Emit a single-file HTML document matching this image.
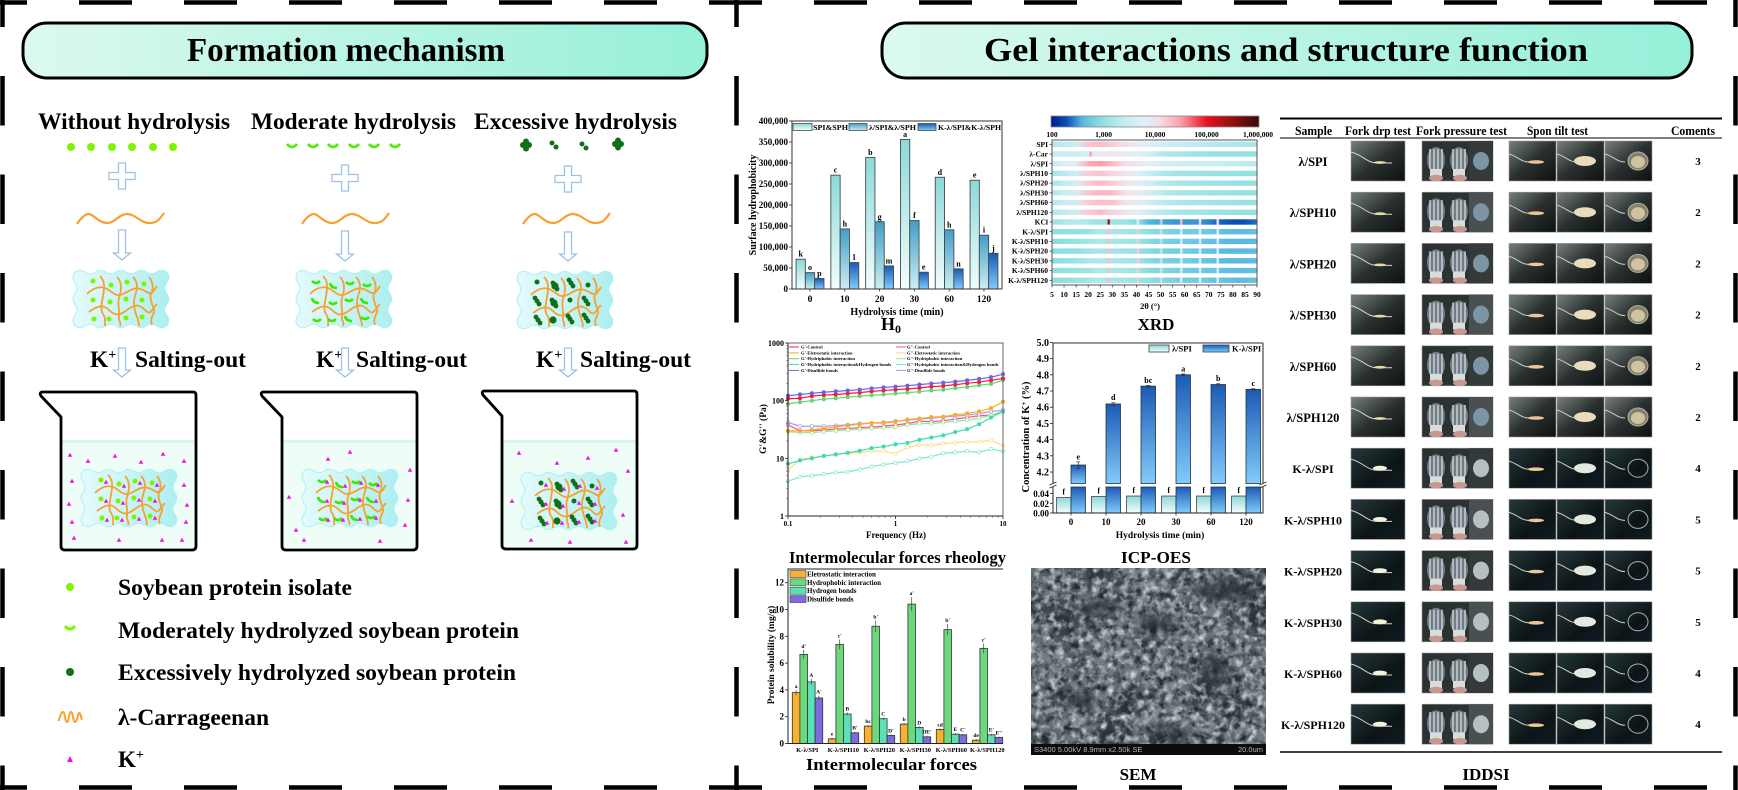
<!DOCTYPE html>
<html lang="en">
<head>
<meta charset="utf-8">
<title>Formation mechanism and gel interactions</title>
<style>
html,body{margin:0;padding:0;background:#fff;}
svg{display:block;font-family:"Liberation Serif","Noto Serif CJK SC",serif;font-weight:bold;}
</style>
</head>
<body>
<svg id="fig" xmlns="http://www.w3.org/2000/svg" width="1738" height="790" viewBox="0 0 1738 790">
<defs>
<linearGradient id="pillL" x1="0" x2="1" y1="0" y2="0"><stop offset="0" stop-color="#dcf9f0"/><stop offset="1" stop-color="#96f0d8"/></linearGradient>
<linearGradient id="gelFill" x1="0" x2="1" y1="0" y2="0"><stop offset="0" stop-color="#e4fafb"/><stop offset="1" stop-color="#aeeef0"/></linearGradient>
<linearGradient id="s1" x1="0" x2="0" y1="0" y2="1"><stop offset="0" stop-color="#8ed8d8"/><stop offset="1" stop-color="#f2fdfd"/></linearGradient>
<linearGradient id="s2" x1="0" x2="0" y1="0" y2="1"><stop offset="0" stop-color="#459cc6"/><stop offset="1" stop-color="#cdeef2"/></linearGradient>
<linearGradient id="s3" x1="0" x2="0" y1="0" y2="1"><stop offset="0" stop-color="#1c5ab6"/><stop offset="1" stop-color="#82ccfa"/></linearGradient>
<linearGradient id="photoL" x1="0" x2="1" y1="0" y2="1"><stop offset="0" stop-color="#767e7e"/><stop offset=".5" stop-color="#2a3030"/><stop offset="1" stop-color="#0c1010"/></linearGradient>
<linearGradient id="photoK" x1="0" x2="1" y1="0" y2="1"><stop offset="0" stop-color="#26383a"/><stop offset=".6" stop-color="#0c1416"/><stop offset="1" stop-color="#101c24"/></linearGradient>
<filter id="semDark" x="0" y="0" width="100%" height="100%" color-interpolation-filters="sRGB">
<feTurbulence type="fractalNoise" baseFrequency="0.12" numOctaves="4" seed="11"/>
<feColorMatrix type="matrix" values="0 0 0 0 0.14  0 0 0 0 0.17  0 0 0 0 0.19  1.8 1.8 0 0 -1.5"/>
<feComposite in2="SourceGraphic" operator="in"/>
</filter>
<filter id="semLight" x="0" y="0" width="100%" height="100%" color-interpolation-filters="sRGB">
<feTurbulence type="fractalNoise" baseFrequency="0.14" numOctaves="3" seed="29"/>
<feColorMatrix type="matrix" values="0 0 0 0 0.82  0 0 0 0 0.86  0 0 0 0 0.88  1.5 1.5 0 0 -1.35"/>
<feComposite in2="SourceGraphic" operator="in"/>
</filter>
<filter id="semLarge" x="0" y="0" width="100%" height="100%" color-interpolation-filters="sRGB">
<feTurbulence type="fractalNoise" baseFrequency="0.022" numOctaves="2" seed="5"/>
<feColorMatrix type="matrix" values="0 0 0 0 0.1  0 0 0 0 0.13  0 0 0 0 0.15  2.4 0 0 0 -1.1"/>
<feComposite in2="SourceGraphic" operator="in"/>
</filter>
<filter id="blur5"><feGaussianBlur stdDeviation="5"/></filter>
</defs>

<g stroke="#000" stroke-width="4.5" fill="none">
<line x1="0" y1="2.5" x2="1738" y2="2.5" stroke-dasharray="53 52" stroke-dashoffset="26"/>
<line x1="0" y1="787.5" x2="1738" y2="787.5" stroke-dasharray="53 52" stroke-dashoffset="26"/>
<line x1="2.5" y1="0" x2="2.5" y2="790" stroke-dasharray="49.5 49" stroke-dashoffset="22.5"/>
<line x1="736.5" y1="0" x2="736.5" y2="790" stroke-dasharray="49.5 49" stroke-dashoffset="22.5"/>
<line x1="1735.5" y1="0" x2="1735.5" y2="790" stroke-dasharray="49.5 49" stroke-dashoffset="22.5"/>
</g>

<g>
<rect x="23" y="23" width="684" height="55" rx="24" fill="url(#pillL)" stroke="#000" stroke-width="3"/>
<text x="346" y="61" font-size="34" text-anchor="middle" textLength="318" lengthAdjust="spacingAndGlyphs">Formation mechanism</text>
</g>
<g>
<rect x="882" y="23" width="810" height="55" rx="24" fill="url(#pillL)" stroke="#000" stroke-width="3"/>
<text x="1286" y="61" font-size="34" text-anchor="middle" textLength="604" lengthAdjust="spacingAndGlyphs">Gel interactions and structure function</text>
</g>

<g font-size="23.5">
<text x="38" y="129" textLength="192" lengthAdjust="spacingAndGlyphs">Without hydrolysis</text>
<text x="251" y="129" textLength="205" lengthAdjust="spacingAndGlyphs">Moderate hydrolysis</text>
<text x="474" y="129" textLength="203" lengthAdjust="spacingAndGlyphs">Excessive hydrolysis</text>
</g>
<g font-size="23.5">
<text x="90" y="367">K<tspan dy="-8" font-size="14">+</tspan></text>
<text x="135" y="367" textLength="111" lengthAdjust="spacingAndGlyphs">Salting-out</text>
<text x="316" y="367">K<tspan dy="-8" font-size="14">+</tspan></text>
<text x="356" y="367" textLength="111" lengthAdjust="spacingAndGlyphs">Salting-out</text>
<text x="536" y="367">K<tspan dy="-8" font-size="14">+</tspan></text>
<text x="580" y="367" textLength="111" lengthAdjust="spacingAndGlyphs">Salting-out</text>
</g>
<g id="mech"></g>

<g id="mechLegend" font-size="23">
<circle cx="70" cy="587" r="4" fill="#7df500"/>
<text x="118" y="595" textLength="234" lengthAdjust="spacingAndGlyphs">Soybean protein isolate</text>
<path d="M65 626 Q70 632 75 626" fill="none" stroke="#7df500" stroke-width="3"/>
<text x="118" y="638" textLength="401" lengthAdjust="spacingAndGlyphs">Moderately hydrolyzed soybean protein</text>
<circle cx="70" cy="672" r="4" fill="#107018"/>
<text x="118" y="680" textLength="398" lengthAdjust="spacingAndGlyphs">Excessively hydrolyzed soybean protein</text>
<path d="M58.500 721 C60 717,61 712,63 712 C65 712,65 722,67 722 C69 722,69 712,71 712 C73 712,73 722,75 722 C77 722,78 714,79 713 C81 713,81 718,82 720" fill="none" stroke="#f8a030" stroke-width="2"/>
<text x="118" y="725" textLength="151" lengthAdjust="spacingAndGlyphs">λ-Carrageenan</text>
<polygon points="70,756 73,762 67,762" fill="#f010e0"/>
<text x="118" y="767">K<tspan dy="-8" font-size="14">+</tspan></text>
</g>

<g id="chartH0"></g>
<g id="chartXRD"></g>
<g id="chartRheo"></g>
<g id="chartICP"></g>
<g id="chartForces"></g>

<g>
<rect x="1031" y="568" width="235" height="187" fill="#727d82"/>
<rect x="1031" y="568" width="235" height="187" fill="#2c3438" filter="url(#semLarge)"/>
<rect x="1031" y="568" width="235" height="187" fill="#2c3438" filter="url(#semDark)"/>
<rect x="1031" y="568" width="235" height="187" fill="#dde4e8" filter="url(#semLight)"/>
<g fill="#20282c" filter="url(#blur5)" opacity=".7">
<ellipse cx="1225" cy="590" rx="30" ry="12"/>
<ellipse cx="1215" cy="672" rx="13" ry="17"/>
<ellipse cx="1155" cy="625" rx="22" ry="10"/>
<ellipse cx="1100" cy="608" rx="25" ry="8"/>
<ellipse cx="1080" cy="700" rx="20" ry="9"/>
<ellipse cx="1170" cy="735" rx="26" ry="7"/>
</g>
<rect x="1031" y="744" width="235" height="11" fill="#0c0c0c"/>
<text x="1034" y="752" font-size="7.5" fill="#b8b8b8" style="font-family:'Liberation Sans',sans-serif;font-weight:normal">S3400 5.00kV 8.9mm x2.50k SE</text>
<text x="1263" y="752" font-size="7.5" fill="#b8b8b8" text-anchor="end" style="font-family:'Liberation Sans',sans-serif;font-weight:normal">20.0um</text>
</g>

<g id="iddsi">
<line x1="1280" y1="118.500" x2="1722" y2="118.500" stroke="#000" stroke-width="2"/>
<line x1="1280" y1="138" x2="1722" y2="138" stroke="#333" stroke-width="1.200"/>
<line x1="1280" y1="752" x2="1722" y2="752" stroke="#000" stroke-width="1.500"/>
<g font-size="13">
<text x="1295" y="135" textLength="37" lengthAdjust="spacingAndGlyphs">Sample</text>
<text x="1345" y="135" textLength="66" lengthAdjust="spacingAndGlyphs">Fork drp test</text>
<text x="1416" y="135" textLength="91" lengthAdjust="spacingAndGlyphs">Fork pressure test</text>
<text x="1527" y="135" textLength="61" lengthAdjust="spacingAndGlyphs">Spon tilt test</text>
<text x="1671" y="135" textLength="44" lengthAdjust="spacingAndGlyphs">Coments</text>
</g>
</g>

<g>
<text x="891" y="330" font-size="18" text-anchor="middle">H<tspan dy="3" font-size="12">0</tspan></text>
<text x="1156" y="330" font-size="17" text-anchor="middle">XRD</text>
<text x="789" y="563" font-size="17" textLength="217" lengthAdjust="spacingAndGlyphs">Intermolecular forces rheology</text>
<text x="1121" y="563" font-size="17" textLength="70" lengthAdjust="spacingAndGlyphs">ICP-OES</text>
<text x="806" y="770" font-size="17" textLength="171" lengthAdjust="spacingAndGlyphs">Intermolecular forces</text>
<text x="1138" y="780" font-size="17" text-anchor="middle">SEM</text>
<text x="1486" y="780" font-size="17" text-anchor="middle">IDDSI</text>
</g>
</svg>

<script>
/* ---------- Chart data ---------- */
const h0Categories = ['0','10','20','30','60','120'];
const h0SeriesNames = ['SPI&SPH','λ/SPI&λ/SPH','K-λ/SPI&K-λ/SPH'];
const h0Spi = [71000,271000,313000,356000,266000,259000];
const h0Lambda = [39000,143000,160000,163000,141000,128000];
const h0Kappa = [25000,63000,55000,40000,48000,85000];
const h0SpiLetters = ['k','c','b','a','d','e'];
const h0LambdaLetters = ['o','h','g','f','h','i'];
const h0KappaLetters = ['p','l','m','e','n','j'];
const h0Ticks = [0,50000,100000,150000,200000,250000,300000,350000,400000];
const h0TickLabels = ['0','50,000','100,000','150,000','200,000','250,000','300,000','350,000','400,000'];

const xrdRowNames = ['SPI','λ-Car','λ/SPI','λ/SPH10','λ/SPH20','λ/SPH30','λ/SPH60','λ/SPH120','KCl','K-λ/SPI','K-λ/SPH10','K-λ/SPH20','K-λ/SPH30','K-λ/SPH60','K-λ/SPH120'];
const xrdAngles = [5,10,15,20,25,30,35,40,45,50,55,60,65,70,75,80,85,90];
const xrdSpi = [3.25,3.35,3.5,4.25,4.3,4.2,4.05,3.9,3.7,3.55,3.45,3.4,3.35,3.3,3.25,3.25,3.2,3.2];
const xrdCar = [3.4,3.45,3.45,3.6,3.9,3.95,3.9,3.8,3.55,3.3,3.2,3.15,3.1,3.05,3.05,3.05,3.05,3.05];
const xrdLamSpi = [3.4,3.65,3.85,4.4,4.5,4.3,4.1,3.95,3.8,3.65,3.55,3.5,3.45,3.45,3.45,3.4,3.35,3.3];
const xrdLamSph10 = [3.15,3.3,3.5,4.2,4.25,4.15,4,3.75,3.45,3.25,3.15,3.1,3.1,3.05,3.05,3.05,3,3];
const xrdLamSph20 = [3.2,3.35,3.55,4.2,4.3,4.2,4.05,3.85,3.5,3.3,3.2,3.15,3.15,3.1,3.1,3.05,3.05,3.05];
const xrdLamSph30 = [3.25,3.4,3.55,4.25,4.35,4.3,4.1,3.9,3.55,3.35,3.2,3.15,3.15,3.1,3.1,3.05,3.05,3.05];
const xrdLamSph60 = [3.25,3.4,3.55,4.2,4.3,4.25,4.05,3.85,3.55,3.35,3.25,3.2,3.15,3.15,3.1,3.1,3.05,3.05];
const xrdLamSph120 = [3.25,3.35,3.5,4.2,4.3,4.15,4,3.8,3.5,3.3,3.2,3.15,3.15,3.1,3.1,3.05,3.05,3.05];
const xrdKcl = [3.1,3.2,3.3,3.2,3.1,3.1,3.1,3,2.6,2.55,2.5,2.5,2.5,2.45,2.35,2.3,2.3,2.4];
const xrdKSpi = [3,3,3,3.05,3.25,3.2,3.15,3.1,3,2.9,2.85,2.8,2.8,2.75,2.7,2.65,2.65,2.7];
const xrdKSph10 = [2.95,3,3.05,3.15,3.25,3.15,3.15,3.1,2.95,2.85,2.8,2.8,2.75,2.7,2.65,2.6,2.6,2.65];
const xrdKSph20 = [2.95,3,3,3.1,3.2,3.15,3.1,3.05,2.95,2.85,2.8,2.8,2.75,2.7,2.65,2.6,2.6,2.65];
const xrdKSph30 = [2.95,3,3.05,3.2,3.25,3.2,3.15,3.1,2.95,2.85,2.8,2.8,2.75,2.7,2.65,2.6,2.6,2.65];
const xrdKSph60 = [3,3,3.05,3.1,3.25,3.2,3.15,3.1,2.95,2.9,2.85,2.8,2.75,2.75,2.7,2.65,2.65,2.7];
const xrdKSph120 = [3,3,3.05,3.15,3.25,3.2,3.15,3.1,3,2.9,2.85,2.8,2.8,2.75,2.7,2.65,2.65,2.7];
const xrdPeakAngles = [28.5,40.5,50.2,58.6,66.4,73.7];
const xrdKclPeaks = [5.4,3.8,3.9,4.3,3.9,3.9];
const xrdKRowPeaks = [4.3,4.2,3.7,3.7,3.7,3.7];
const xrdCarPeakAngles = [21];
const xrdCarPeaks = [4.5];
const xrdTicks = [5,10,15,20,25,30,35,40,45,50,55,60,65,70,75,80,85,90];
const colorbarLabels = ['100','1,000','10,000','100,000','1,000,000'];
const colorbarTicks = [2,3,4,5,6];

const rheoFreqCount = 19;
const rheoGpControl = [108,110,120,125,128,133,138,145,150,155,160,166,175,180,190,200,210,225,243];
const rheoGpElectro = [30,30,31,33,35,37,39,41,41,43,47,49,52,53,57,60,65,74,96];
const rheoGpHydro = [88,94,100,106,110,115,120,124,128,133,138,143,150,155,165,172,185,195,227];
const rheoGpHH = [8,9.2,10,11,11.7,12.5,13.5,15,16,17.5,18.5,21,23,25,28.5,32,39,51,65];
const rheoGpDisulfide = [122,128,134,140,145,150,155,163,170,175,182,190,198,205,213,225,238,255,288];
const rheoGppControl = [38,30,30,31,32,33,34,35,36,38,40,44,43,45,48,51,55,56,65];
const rheoGppElectro = [6.2,9.5,10.3,11,11.5,12.2,12.7,13.2,13.4,12,15.5,17,16.8,18,18.7,19.3,19.3,20.6,16.5];
const rheoGppHydro = [29,28,28,29,30,31,32,33,34,35,38,40,40,42,44,46,50,56,65];
const rheoGppHH = [4,4.8,5,5.3,5.7,5.8,6.4,7.2,7.8,8.3,8.9,9.9,10.7,12.3,12.7,13.3,12.7,14.5,13.3];
const rheoGppDisulfide = [42,36,36,36,37,38,40,41,42,44,46,48,50,52,54,56,60,65,68];
const rheoLegendLeft = ["G'-Control","G'-Eletrostatic interaction","G'-Hydriphobic interaction","G'-Hydriphobic interaction&Hydrogen bonds","G'-Disulfide bonds"];
const rheoLegendRight = ["G''-Control","G''-Eletrostatic interaction","G''-Hydriphobic interaction","G''-Hydriphobic interaction&Hydrogen bonds","G''-Disulfide bonds"];
const rheoYTicks = [1,10,100,1000];
const rheoYLabels = ['1','10','100','1000'];
const rheoXTicks = [0.1,1,10];
const rheoXLabels = ['0.1','1','10'];

const icpCategories = ['0','10','20','30','60','120'];
const icpLight = [0.032,0.034,0.035,0.035,0.035,0.035];
const icpDark = [4.243,4.62,4.73,4.80,4.74,4.71];
const icpDarkErr = [0.02,0.008,0.005,0.005,0.005,0.005];
const icpLetters = ['e','d','bc','a','b','c'];
const icpUpperTicks = [4.2,4.3,4.4,4.5,4.6,4.7,4.8,4.9,5.0];
const icpLowerTicks = [0,0.02,0.04];
const icpLowerLabels = ['0.00','0.02','0.04'];

const forceCategories = ['K-λ/SPI','K-λ/SPH10','K-λ/SPH20','K-λ/SPH30','K-λ/SPH60','K-λ/SPH120'];
const forceElectro = [3.8,0.35,1.3,1.45,1.05,0.25];
const forceHydrophobic = [6.65,7.4,8.75,10.4,8.5,7.1];
const forceHydrogen = [4.6,2.2,1.85,1.2,0.7,0.65];
const forceDisulfide = [3.4,0.8,0.6,0.5,0.65,0.45];
const forceElectroLetters = ['a','e','bc','b','cd','de'];
const forceHydrophobicLetters = ["d'","c'","b'","a'","b'","c'"];
const forceHydrogenLetters = ['A','B','C','D','E',"E'"];
const forceDisulfideLetters = ["A'","B'","D'","DE'","C'","E''"];
const forceTicks = [0,2,4,6,8,10,12];
const forceLegend = ['Eletrostatic interaction','Hydrophobic interaction','Hydrogen bonds','Disulfide bonds'];

const tableSamples = ['λ/SPI','λ/SPH10','λ/SPH20','λ/SPH30','λ/SPH60','λ/SPH120','K-λ/SPI','K-λ/SPH10','K-λ/SPH20','K-λ/SPH30','K-λ/SPH60','K-λ/SPH120'];
const tableScores = [3,2,2,2,2,2,4,5,5,5,4,4];

/* ---------- Helpers ---------- */
const NS = 'http://www.w3.org/2000/svg';
function mk(tag, attrs, parent, txt) {
  const e = document.createElementNS(NS, tag);
  for (const k in attrs) e.setAttribute(k, attrs[k]);
  if (txt !== undefined) e.textContent = txt;
  if (parent) parent.appendChild(e);
  return e;
}
function line(p, x1, y1, x2, y2, stroke, sw) {
  return mk('line', {x1, y1, x2, y2, stroke, 'stroke-width': sw}, p);
}
function text(p, x, y, s, size, anchor, fill) {
  return mk('text', {x, y, 'font-size': size, 'text-anchor': anchor || 'start', fill: fill || '#000'}, p, s);
}
const defs = document.querySelector('#fig defs');

/* ---------- Mechanism diagram ---------- */
const mech = document.getElementById('mech');
function plusIcon(cx, cy) {
  const a = 13, b = 3.5;
  const el = mk('polygon', {points: [[-b,-a],[b,-a],[b,-b],[a,-b],[a,b],[b,b],[b,a],[-b,a],[-b,b],[-a,b],[-a,-b],[-b,-b]].map(p => (cx+p[0])+','+(cy+p[1])).join(' '), fill: '#fff', stroke: '#9cc0e6', 'stroke-width': 1.3}, mech);
  
  
}
function downArrow(cx, y, h) {
  const s = 3.5, w = 8.5, head = h - 7;
  const el = mk('polygon', {points: [[-s,0],[s,0],[s,head],[w,head],[0,h],[-w,head],[-s,head]].map(p => (cx+p[0])+','+(y+p[1])).join(' '), fill: '#fff', stroke: '#9cc0e6', 'stroke-width': 1.3}, mech);
  
  
}
function carrageenan(x, y) {
  const el = mk('path', {d: 'M0 10 C4 4,8 0,12 0 S22 9,30 9 S42 0,50 0 S64 9,72 9 S82 6,87 -1', transform: 'translate('+x+','+y+')', fill: 'none', stroke: '#f8a030', 'stroke-width': 2.2}, mech);
  
  
}
function gelBlobPath() {
  let d = 'M2 4';
  for (let i = 0; i < 9; i++) d += ' q5 ' + (i % 2 ? 3.5 : -3.5) + ' 10.2 0';
  for (let i = 0; i < 5; i++) d += ' q' + (i % 2 ? -4 : 4) + ' 5.5 0 10.8';
  for (let i = 0; i < 9; i++) d += ' q-5 ' + (i % 2 ? -3.5 : 3.5) + ' -10.2 0';
  for (let i = 0; i < 5; i++) d += ' q' + (i % 2 ? 4 : -4) + ' -5.5 0 -10.8';
  return d + ' Z';
}
const gelNetwork = [
  'M14 26 C20 20,26 18,32 20 S42 30,50 26 S62 18,70 22 S78 28,84 18',
  'M16 44 C24 38,30 36,36 42 S46 48,54 42 S66 36,72 42 S78 42,84 36',
  'M27 8 C33 14,31 22,30 28 S27 42,30 46 S32 54,32 58',
  'M44 9 C50 15,48 24,46 30 S47 42,46 48 S49 54,47 58',
  'M60 9 C66 15,64 22,62 28 S61 40,63 46 S66 54,66 58',
  'M76 9 C81 15,80 22,78 26 S80 38,81 42 S76 50,79 57'
];
const gelSpots = [[20,13],[38,17],[54,14],[71,16],[20,32],[37,34],[53,31],[69,32],[21,51],[36,51],[53,50],[69,49]];
function triangle(p, x, y) {
  const el = mk('polygon', {points: x+','+(y-2.2)+' '+(x+2.3)+','+(y+1.8)+' '+(x-2.3)+','+(y+1.8), fill: '#f010e0'}, p);
  
  
}
function gel(x, y, kind, withK) {
  const g = mk('g', {transform: 'translate('+x+','+y+')'}, mech);
  
  
  const blob = mk('path', {d: gelBlobPath(), fill: 'url(#gelFill)', stroke: '#a8f2f8', 'stroke-width': 1}, g);
  
  
  gelNetwork.forEach(d => {
    const n = mk('path', {d, fill: 'none', stroke: '#f8a030', 'stroke-width': 1.8}, g);
    
    
  });
  gelSpots.forEach((s, i) => {
    const pg = mk('g', {transform: 'translate('+s[0]+','+s[1]+')'}, g);
    
    
    if (kind === 0) mk('circle', {r: 2.5, fill: '#7df500'}, pg);
    if (kind === 1) mk('path', {d: i % 3 === 1 ? 'M-4 -2 Q-3 3 3 3' : 'M-4 0 Q0 4 4 0', fill: 'none', stroke: '#3ce800', 'stroke-width': 2.6}, pg);
    if (kind === 2) {
      const big = i % 4 === 1 || i === 5;
      mk('circle', {r: big ? 3.6 : 2.5, fill: '#107018'}, pg);
      if (i % 3 !== 0) { mk('circle', {cx: 2, cy: 3, r: 2.4, fill: '#107018'}, pg); mk('circle', {cx: -2, cy: -3, r: 2.4, fill: '#107018'}, pg); }
    }
  });
  if (withK) gelSpots.forEach((s) => triangle(g, s[0] + 5, s[1] + 2));
}
function beaker(x0, wall, right, top, bottom) {
  const liq = mk('rect', {x: wall, y: 440, width: right - wall, height: bottom - 441, fill: '#eefdf6'}, mech);
  
  
  const band = mk('rect', {x: wall, y: 440, width: right - wall, height: 3, fill: '#d4f8ea'}, mech);
  
  
  const b = mk('path', {d: 'M'+(x0+2)+' '+top+' H'+(right-3)+' q3 0 3 3 V'+(bottom-4)+' q0 4 -4 4 H'+(wall+4)+' q-4 0 -4 -4 V'+(top+25)+' L'+(x0+1)+' '+(top+4)+' q-2 -3 1 -4 Z', fill: 'none', stroke: '#000', 'stroke-width': 2.8, 'stroke-linejoin': 'round'}, mech);
  
  
}
[71,91,112,132,153,173].forEach(x => {
  const d = mk('circle', {cx: x, cy: 147, r: 4, fill: '#7df500'}, mech);
  
  
});
[292,313,333,354,374,395].forEach(x => {
  const d = mk('path', {d: 'M'+(x-5)+' 144 Q'+x+' 150 '+(x+5)+' 144', fill: 'none', stroke: '#4cf000', 'stroke-width': 2.8}, mech);
  
  
});
[[526,145,1],[554,145,0],[584,146,0],[618,144,1]].forEach(c => {
  const g = mk('g', {transform: 'translate('+c[0]+','+c[1]+')', fill: '#107018'}, mech);
  
  
  if (c[2]) { mk('circle', {cx: -3, cy: 0, r: 3}, g); mk('circle', {cx: 3, cy: 0, r: 3}, g); mk('circle', {cx: 0, cy: -3.5, r: 3}, g); mk('circle', {cx: 0, cy: 3.5, r: 3}, g); }
  else { mk('circle', {cx: -2, cy: -2, r: 2.5}, g); mk('circle', {cx: 2, cy: 2, r: 2.5}, g); }
});
plusIcon(122, 176); plusIcon(345, 178); plusIcon(568, 179);
carrageenan(77, 214); carrageenan(302, 214); carrageenan(523, 214);
downArrow(122, 230, 30); downArrow(345, 231, 30); downArrow(568, 232, 29);
gel(73, 268, 0, false); gel(296, 268, 1, false); gel(517, 269, 2, false);
downArrow(122, 348, 29); downArrow(345, 348, 29); downArrow(568, 348, 29);
beaker(40, 61, 196, 392, 550); beaker(261, 282, 417, 392, 550); beaker(482, 502, 637, 391, 549);
gel(81, 467, 0, true); gel(302, 467, 1, true); gel(521, 470, 2, true);
[[70,455],[88,461],[115,456],[141,462],[163,454],[184,461],[72,481],[184,485],[69,504],[187,505],[74,538],[119,540],[162,540],[182,540],[72,522],[186,522]].forEach(p => triangle(mech, p[0], p[1]));
[[328,459],[289,497],[410,470],[296,530],[405,525],[304,540],[380,541],[350,452],[408,500]].forEach(p => triangle(mech, p[0], p[1]));
[[519,453],[557,463],[588,458],[616,450],[628,471],[512,501],[623,515],[531,540],[570,542],[626,542]].forEach(p => triangle(mech, p[0], p[1]));

/* ---------- Chart 1: surface hydrophobicity ---------- */
(function () {
  const g = document.getElementById('chartH0');
  const L = 792, R = 1002, T = 121, B = 289;
  const y = v => B - v / 400000 * (B - T);
  const groupX = i => 810 + i * 34.8;
  const bw = 9.3;
  const series = [h0Spi, h0Lambda, h0Kappa];
  const letters = [h0SpiLetters, h0LambdaLetters, h0KappaLetters];
  series.forEach((vals, s) => {
    vals.forEach((v, i) => {
      const x = groupX(i) - 1.5 * bw + s * bw;
      const bar = mk('rect', {x, y: y(v), width: bw, height: B - y(v), fill: 'url(#s'+(s+1)+')', stroke: '#3c4e50', 'stroke-width': .9}, g);
      
      
      const lb = text(g, x + bw / 2, y(v) - 2.5, letters[s][i], 8, 'middle');
      
      
    });
  });
  const frame = mk('path', {d: 'M'+L+' '+B+' V'+T+' H'+R+' V'+B, fill: 'none', stroke: '#777', 'stroke-width': 1.5}, g);
  
  
  const base = line(g, L, B, R, B, '#333', 1);
  
  
  h0Ticks.forEach((v, i) => {
    const tk = line(g, L - 3, y(v), L, y(v), '#333', .8);
    
    
    const lb = text(g, L - 4, y(v) + 3, h0TickLabels[i], 9, 'end');
    
    
  });
  h0Categories.forEach((c, i) => {
    const lb = text(g, groupX(i), 302, c, 9.5, 'middle');
    
    
    const tk = line(g, groupX(i), B, groupX(i), B + 2.5, '#333', .8);
    
    
  });
  const xt = text(g, 897, 315, 'Hydrolysis time (min)', 10, 'middle');
  
  
  const yt = text(g, 0, 0, 'Surface hydrophobicity', 10, 'middle');
  yt.setAttribute('transform', 'translate(756,205) rotate(-90)');
  
  
  [[793,812,813,'SPI&SPH',35],[849,867,869,'λ/SPI&λ/SPH',47],[918,936,938,'K-λ/SPI&K-λ/SPH',63]].forEach((e, s) => {
    const sw = mk('rect', {x: e[0], y: 123.5, width: e[1]-e[0], height: 7, fill: 'url(#s'+(s+1)+')', stroke: '#3c4e50', 'stroke-width': .8}, g);
    
    
    const lb = text(g, e[2], 130, e[3], 7.5);
    lb.setAttribute('textLength', e[4]);
    lb.setAttribute('lengthAdjust', 'spacingAndGlyphs');
    
    
  });
})();

/* ---------- Chart 2: XRD heatmap ---------- */
const xrdScaleStops = [[2,'#001a8c'],[2.3,'#0a50b4'],[2.6,'#58b8e0'],[3,'#90e0e0'],[3.4,'#c4edf1'],[3.8,'#e4eef8'],[4.1,'#f6dce4'],[4.5,'#ff9ca8'],[5,'#e81020'],[5.5,'#901010'],[6,'#3c0808']];
function xrdColor(v) {
  const st = xrdScaleStops;
  if (v <= st[0][0]) return st[0][1];
  for (let i = 1; i < st.length; i++) {
    if (v <= st[i][0]) {
      const t = (v - st[i-1][0]) / (st[i][0] - st[i-1][0]);
      const a = st[i-1][1], b = st[i][1];
      const ch = k => Math.round(parseInt(a.substr(k,2),16) * (1-t) + parseInt(b.substr(k,2),16) * t);
      return 'rgb('+ch(1)+','+ch(3)+','+ch(5)+')';
    }
  }
  return st[st.length-1][1];
}
(function () {
  const g = document.getElementById('chartXRD');
  const L = 1052, R = 1257, T = 140, B = 285;
  const x = a => L + (a - 5) / 85 * (R - L);
  const rowY = i => 144.3 + i * 9.71;
  const rows = [xrdSpi,xrdCar,xrdLamSpi,xrdLamSph10,xrdLamSph20,xrdLamSph30,xrdLamSph60,xrdLamSph120,xrdKcl,xrdKSpi,xrdKSph10,xrdKSph20,xrdKSph30,xrdKSph60,xrdKSph120];
  const base = (vals, a) => {
    const p = (a - 5) / 5, i = Math.min(Math.floor(p), vals.length - 2);
    return vals[i] + (vals[i+1] - vals[i]) * (p - i);
  };
  rows.forEach((vals, r) => {
    const grad = mk('linearGradient', {id: 'xrdRow'+r, x1: 0, x2: 1, y1: 0, y2: 0}, defs);
    const pts = xrdAngles.map((a, i) => [a, vals[i]]);
    let angles = [], peaks = [];
    if (r === 1) { angles = xrdCarPeakAngles; peaks = xrdCarPeaks; }
    if (r === 8) { angles = xrdPeakAngles; peaks = xrdKclPeaks; }
    if (r > 8) { angles = xrdPeakAngles; peaks = xrdKRowPeaks; }
    angles.forEach((a, i) => {
      const b = base(vals, a);
      pts.push([a - .7, b], [a - .25, peaks[i]], [a + .25, peaks[i]], [a + .7, b]);
    });
    pts.sort((p, q) => p[0] - q[0]);
    pts.forEach(p => mk('stop', {offset: (p[0]-5)/85, 'stop-color': xrdColor(p[1])}, grad));
    const band = mk('rect', {x: L, y: rowY(r) - 2.7, width: R - L, height: 5.4, fill: 'url(#xrdRow'+r+')'}, g);
    
    
    const lb = text(g, L - 4, rowY(r) + 2.6, xrdRowNames[r], 7.5, 'end');
    
    
    const tk = line(g, L - 2.5, rowY(r), L, rowY(r), '#333', .7);
    
    
  });
  const frame = mk('rect', {x: L, y: T, width: R - L, height: B - T, fill: 'none', stroke: '#444', 'stroke-width': .9}, g);
  
  
  xrdTicks.forEach(a => {
    const tk = line(g, x(a), B, x(a), B + 2.5, '#333', .7);
    
    
    const lb = text(g, x(a), 297, String(a), 7.5, 'middle');
    
    
  });
  const xt = text(g, 1150, 309, '2θ (°)', 8.5, 'middle');
  
  
  const cbGrad = mk('linearGradient', {id: 'cbGrad', x1: 0, x2: 1, y1: 0, y2: 0}, defs);
  xrdScaleStops.forEach(s => mk('stop', {offset: (s[0]-2)/4, 'stop-color': s[1]}, cbGrad));
  const cb = mk('rect', {x: 1051, y: 116, width: 208, height: 11, fill: 'url(#cbGrad)', stroke: '#888', 'stroke-width': .8}, g);
  
  
  colorbarTicks.forEach((v, i) => {
    const lb = text(g, 1052 + (v - 2) / 4 * 206, 137, colorbarLabels[i], 7.5, 'middle');
    
    
  });
})();

/* ---------- Chart 3: rheology ---------- */
(function () {
  const g = document.getElementById('chartRheo');
  const L = 788, R = 1003, T = 343, B = 516;
  const x = f => L + (Math.log10(f) + 1) / 2 * (R - L);
  const y = v => B - Math.log10(v) / 3 * (B - T);
  const freqAt = i => Math.pow(10, -1 + 2 * i / (rheoFreqCount - 1));
  const series = [
    [rheoGppControl,'#ff5078',false,'G-double-prime-control'],
    [rheoGppElectro,'#ffd98a',false,'G-double-prime-electrostatic'],
    [rheoGppHydro,'#8ce89a',false,'G-double-prime-hydrophobic'],
    [rheoGppHH,'#78ecc8',false,'G-double-prime-hydrophobic-hydrogen'],
    [rheoGppDisulfide,'#a898ee',false,'G-double-prime-disulfide'],
    [rheoGpElectro,'#f8ae2c',true,'G-prime-electrostatic'],
    [rheoGpHH,'#3fdcae',true,'G-prime-hydrophobic-hydrogen'],
    [rheoGpHydro,'#60d870',true,'G-prime-hydrophobic'],
    [rheoGpControl,'#f81c3c',true,'G-prime-control'],
    [rheoGpDisulfide,'#7060e0',true,'G-prime-disulfide']
  ];
  series.forEach(s => {
    const pts = s[0].map((v, i) => x(freqAt(i)) + ',' + y(v)).join(' ');
    const l = mk('polyline', {points: pts, fill: 'none', stroke: s[1], 'stroke-width': 1.2}, g);
    
    
    s[0].forEach((v, i) => {
      const c = mk('circle', {cx: x(freqAt(i)), cy: y(v), r: 1.7, fill: s[2] ? s[1] : '#fff', stroke: s[1], 'stroke-width': .7}, g);
      
      
    });
  });
  const frame = mk('rect', {x: L, y: T, width: R - L, height: B - T, fill: 'none', stroke: '#666', 'stroke-width': 1}, g);
  
  
  const axes = mk('path', {d: 'M'+L+' '+T+' V'+B+' H'+R, fill: 'none', stroke: '#222', 'stroke-width': 1}, g);
  
  
  rheoYTicks.forEach((v, i) => {
    const tk = line(g, L - 3, y(v), L, y(v), '#222', .8);
    
    
    const lb = text(g, L - 4, y(v) + 3, rheoYLabels[i], 8, 'end');
    
    
    if (i < rheoYTicks.length - 1) [2,3,4,5,6,7,8,9].forEach(m => {
      const mt = line(g, L - 1.8, y(v * m), L, y(v * m), '#444', .5);
      
      
    });
  });
  rheoXTicks.forEach((f, i) => {
    const tk = line(g, x(f), B, x(f), B + 3, '#222', .8);
    
    
    const lb = text(g, x(f), 526, rheoXLabels[i], 7, 'middle');
    
    
    if (i < rheoXTicks.length - 1) [2,3,4,5,6,7,8,9].forEach(m => {
      const mt = line(g, x(f * m), B, x(f * m), B + 1.8, '#444', .5);
      
      
    });
  });
  const xt = text(g, 896, 538, 'Frequency (Hz)', 9, 'middle');
  
  
  const yt = text(g, 0, 0, "G'&G'' (Pa)", 9.5, 'middle');
  yt.setAttribute('transform', 'translate(766,429) rotate(-90)');
  
  
  const legCols = ['#f81c3c','#f8ae2c','#60d870','#3fdcae','#7060e0'];
  const legColsB = ['#ff5078','#ffd98a','#8ce89a','#78ecc8','#a898ee'];
  rheoLegendLeft.forEach((s, i) => {
    const ly = 347 + i * 5.85;
    const l = line(g, 789, ly, 799, ly, legCols[i], 1);
    
    
    const lb = text(g, 801, ly + 1.5, s, 4.6);
    
    
    const l2 = line(g, 896, ly, 906, ly, legColsB[i], 1);
    
    
    const lb2 = text(g, 907, ly + 1.5, rheoLegendRight[i], 4.6);
    
    
  });
})();

/* ---------- Chart 4: ICP-OES ---------- */
(function () {
  const g = document.getElementById('chartICP');
  const L = 1053, R = 1263, T = 343, B = 513, breakTop = 483.5, breakBot = 487;
  const yUp = v => 472 - (v - 4.2) * 162;
  const yLow = v => B - v * 485;
  const cx = i => 1071 + i * 35;
  const bw = 14.5;
  icpCategories.forEach((c, i) => {
    const lightH = B - yLow(icpLight[i]);
    const b1 = mk('rect', {x: cx(i) - bw, y: yLow(icpLight[i]), width: bw, height: lightH, fill: 'url(#s1)', stroke: '#445', 'stroke-width': .8}, g);
    
    
    const f = text(g, cx(i) - bw / 2, yLow(icpLight[i]) - 3, 'f', 8, 'middle');
    
    
    const b2 = mk('rect', {x: cx(i), y: yUp(icpDark[i]), width: bw, height: breakTop - yUp(icpDark[i]), fill: 'url(#s3)', stroke: '#234', 'stroke-width': .8}, g);
    
    
    const b3 = mk('rect', {x: cx(i), y: breakBot, width: bw, height: B - breakBot, fill: 'url(#s3)', stroke: '#234', 'stroke-width': .8}, g);
    
    
    const errY = yUp(icpDark[i] + icpDarkErr[i]), errY2 = yUp(icpDark[i] - icpDarkErr[i]);
    const err = mk('path', {d: 'M'+(cx(i)+bw/2-2)+' '+errY+' h4 M'+(cx(i)+bw/2)+' '+errY+' V'+errY2+' M'+(cx(i)+bw/2-2)+' '+errY2+' h4', stroke: '#333', 'stroke-width': .7, fill: 'none'}, g);
    
    
    const lb = text(g, cx(i) + bw / 2, errY - 2.5, icpLetters[i], 8, 'middle');
    
    
    const tk = line(g, cx(i), B, cx(i), B + 2.5, '#222', .8);
    
    
    const xl = text(g, cx(i), 525, c, 9, 'middle');
    
    
  });
  const frame = mk('path', {d: 'M'+L+' '+T+' H'+R, fill: 'none', stroke: '#888', 'stroke-width': 1.8}, g);
  
  
  const ax = mk('path', {d: 'M'+L+' '+T+' V'+breakTop+' M'+L+' '+breakBot+' V'+B+' H'+R+' V'+breakBot+' M'+R+' '+breakTop+' V'+T, fill: 'none', stroke: '#222', 'stroke-width': 1}, g);
  
  
  const brk = mk('path', {d: 'M'+(L-3.5)+' 485 l7 -3 M'+(L-3.5)+' 488 l7 -3 M'+(R-3.5)+' 485 l7 -3 M'+(R-3.5)+' 488 l7 -3', stroke: '#222', 'stroke-width': .8}, g);
  
  
  icpUpperTicks.forEach(v => {
    const tk = line(g, L - 3, yUp(v), L, yUp(v), '#222', .8);
    
    
    const lb = text(g, L - 4, yUp(v) + 3.5, v.toFixed(1), 10, 'end');
    
    
  });
  icpLowerTicks.forEach((v, i) => {
    const tk = line(g, L - 3, yLow(v), L, yLow(v), '#222', .8);
    
    
    const lb = text(g, L - 4, yLow(v) + 3.5, icpLowerLabels[i], 9, 'end');
    
    
  });
  const xt = text(g, 1160, 538, 'Hydrolysis time (min)', 9.5, 'middle');
  
  
  const yt = text(g, 0, 0, 'Concentration of K', 10.5, 'middle');
  yt.setAttribute('transform', 'translate(1029,437) rotate(-90)');
  mk('tspan', {dy: -3, 'font-size': 7}, yt, '+');
  mk('tspan', {dy: 3}, yt, ' (%)');
  
  
  [[1149,1169,1172,'λ/SPI',1],[1203,1229,1232,'K-λ/SPI',3]].forEach(e => {
    const sw = mk('rect', {x: e[0], y: 345, width: e[1]-e[0], height: 7, fill: 'url(#s'+e[4]+')', stroke: '#345', 'stroke-width': .8}, g);
    
    
    const lb = text(g, e[2], 351.5, e[3], 8.5);
    
    
  });
})();

/* ---------- Chart 5: intermolecular forces ---------- */
(function () {
  const g = document.getElementById('chartForces');
  const L = 788, R = 1003, T = 569, B = 743.5;
  const y = v => B - v * 13.4;
  const bw = 7.6;
  const gx = i => 792.3 + i * 36;
  const cols = ['#f8b030','#6cd87c','#5ce0b8','#7c6ce0'];
  const series = [forceElectro, forceHydrophobic, forceHydrogen, forceDisulfide];
  const letters = [forceElectroLetters, forceHydrophobicLetters, forceHydrogenLetters, forceDisulfideLetters];
  series.forEach((vals, s) => {
    vals.forEach((v, i) => {
      const x = gx(i) + s * bw;
      const bar = mk('rect', {x, y: y(v), width: bw, height: B - y(v), fill: cols[s], stroke: '#2a3a30', 'stroke-width': .8}, g);
      
      
      const e = Math.max(.08, v * .05);
      const err = line(g, x + bw / 2, y(v + e), x + bw / 2, y(v - e), '#444', .7);
      
      
      const lb = text(g, x + bw / 2, y(v + e) - 2, letters[s][i], 5.5, 'middle');
      
      
    });
    const lg = mk('rect', {x: 790, y: 570.5 + s * 8.35, width: 16, height: 7, fill: cols[s], stroke: '#444', 'stroke-width': .6}, g);
    
    
    const ll = text(g, 807, 576.5 + s * 8.35, forceLegend[s], 7);
    
    
  });
  const frame = mk('path', {d: 'M'+R+' '+T+' H'+L+' V'+B+' H'+R, fill: 'none', stroke: '#222', 'stroke-width': 1}, g);
  
  
  forceTicks.forEach(v => {
    const tk = line(g, L - 3, y(v), L, y(v), '#222', .8);
    
    
    const lb = text(g, L - 4, y(v) + 3, String(v), 9, 'end');
    
    
  });
  forceCategories.forEach((c, i) => {
    const lb = text(g, gx(i) + 15, 752, c, 6.5, 'middle');
    
    
  });
  const yt = text(g, 0, 0, 'Protein solubility (mg/g)', 9.5, 'middle');
  yt.setAttribute('transform', 'translate(774,655) rotate(-90)');
  
  
})();

/* ---------- IDDSI table ---------- */
(function () {
  const g = document.getElementById('iddsi');
  const rowTop = i => 141 + i * 51.2;
  function photoFrame(p, x, y, w, h, fill) {
    const r = mk('rect', {x, y, width: w, height: h, fill, stroke: '#9a9a9a', 'stroke-width': .6}, p);
    
    
  }
  tableSamples.forEach((name, i) => {
    const y = rowTop(i), isK = i >= 6;
    const bg = isK ? 'url(#photoK)' : 'url(#photoL)';
    const lb = text(g, 1313, y + 25, name, isK ? 12 : 12.5, 'middle');
    
    
    const sc = text(g, 1698, y + 24, String(tableScores[i]), 11, 'middle');
    
    

    const dripG = mk('g', {}, g);
    
    
    photoFrame(dripG, 1351, y, 54, 40, bg);
    mk('path', {d: 'M'+1351+' '+(y+11)+' C'+1363+' '+(y+14)+','+1367+' '+(y+22)+','+1377+' '+(y+22)+' L'+1392+' '+(y+22), stroke: '#d8d8c8', 'stroke-width': 1, fill: 'none'}, dripG);
    mk('ellipse', {cx: 1380, cy: y + (isK ? 20 : 21.5), rx: isK ? 7 : 6, ry: isK ? 2.4 : 1.4, fill: isK ? '#f2f2d8' : '#ead8a8'}, dripG);

    const forkG = mk('g', {}, g);
    
    
    photoFrame(forkG, 1422, y, 71, 40, '#2c3232');
    mk('rect', {x: 1469, y, width: 24, height: 40, fill: i % 2 ? '#4a5052' : '#34393a'}, forkG);
    [1436, 1459].forEach((fx, k) => {
      mk('ellipse', {cx: fx, cy: y + 19, rx: 9, ry: 13, fill: '#8a9ca8', opacity: .7}, forkG);
      [-6,-2,2,6].forEach(o => mk('rect', {x: fx + o - .8, y: y + 8, width: 1.6, height: 20, fill: '#c4cacc'}, forkG));
      mk('rect', {x: fx - 6, y: y + 28, width: 12, height: 7, fill: '#d8dcdc'}, forkG);
      mk('ellipse', {cx: fx + k, cy: y + 37, rx: 7, ry: 3.2, fill: '#c89890'}, forkG);
    });
    mk('ellipse', {cx: 1481, cy: y + 20, rx: 8, ry: 9, fill: isK ? '#b4c0c2' : '#7c94a4'}, forkG);

    const tiltG = mk('g', {}, g);
    
    
    [1509, 1557, 1605].forEach((sx, k) => {
      photoFrame(tiltG, sx, y, 47, 40, bg);
      mk('path', {d: 'M'+sx+' '+(y+13)+' C'+(sx+8)+' '+(y+15)+','+(sx+12)+' '+(y+21)+','+(sx+20)+' '+(y+21), stroke: '#cfcfc4', 'stroke-width': 1, fill: 'none'}, tiltG);
      if (k === 0) mk('ellipse', {cx: sx + 27, cy: y + 21, rx: 8, ry: 1.8, fill: '#e8c898'}, tiltG);
      if (k === 1) mk('ellipse', {cx: sx + 28, cy: y + 20, rx: 11, ry: 5, fill: isK ? '#e4e8e0' : '#e8dcbc'}, tiltG);
      if (k === 2) {
        mk('ellipse', {cx: sx + 33, cy: y + 20, rx: 10, ry: 9, fill: isK ? 'none' : '#8a8068', stroke: '#a8b0b0', 'stroke-width': 1}, tiltG);
        if (!isK) mk('ellipse', {cx: sx + 33, cy: y + 21, rx: 7, ry: 6, fill: '#d0c4a0'}, tiltG);
      }
    });
  });
})();
</script>
</body>
</html>
